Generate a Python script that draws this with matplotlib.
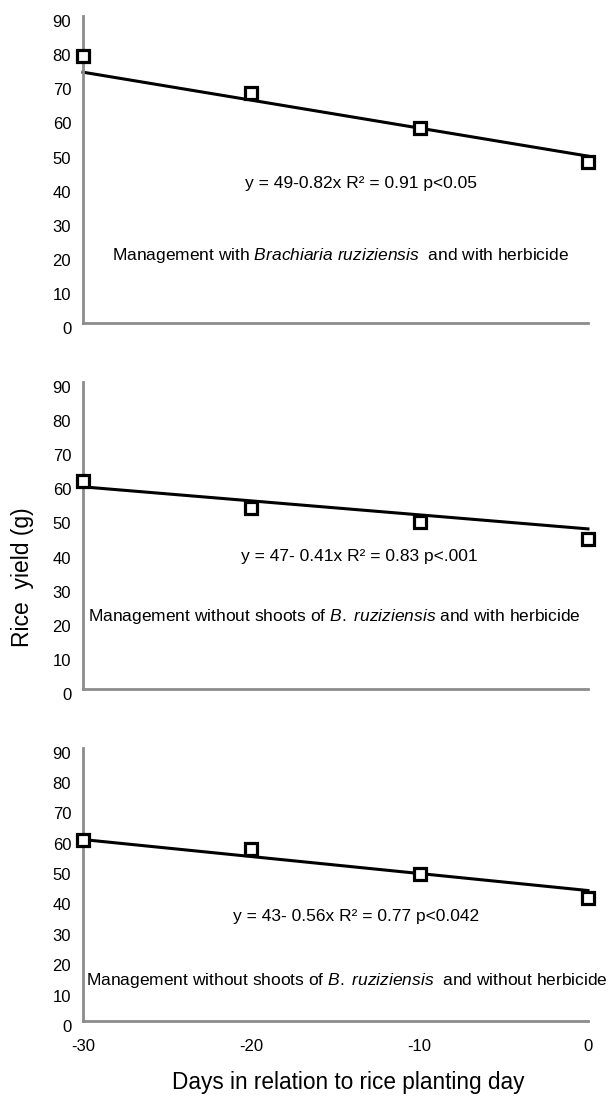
import matplotlib
matplotlib.use('Agg')
import matplotlib.pyplot as plt
import matplotlib.transforms as mtransforms
import numpy as np

plt.rcParams['font.family'] = ['Liberation Sans', 'DejaVu Sans']
plt.rcParams['mathtext.fontset'] = 'custom'
plt.rcParams['mathtext.rm'] = 'Liberation Sans'
plt.rcParams['mathtext.it'] = 'Liberation Sans:italic'
plt.rcParams['axes.unicode_minus'] = False

# days in relation to rice planting day
days = [-30, -20, -10, 0]

# rice yield (g) per management
yield_brach_herb = [78.3, 67.4, 57.3, 47.3]
yield_noshoot_herb = [61.1, 53.2, 48.9, 44.0]
yield_noshoot_noherb = [59.7, 56.6, 48.5, 40.7]

# fitted lines: intercept, slope
fit_brach_herb = (49, -0.82)
fit_noshoot_herb = (47, -0.41)
fit_noshoot_noherb = (43, -0.56)

eq_texts = ['y = 49-0.82x R² = 0.91 p<0.05',
            'y = 47- 0.41x R² = 0.83 p<.001',
            'y = 43- 0.56x R² = 0.77 p<0.042']
captions = ['Management with $\\it{Brachiaria\\ ruziziensis}$  and with herbicide',
            'Management without shoots of $\\it{B.\\ ruziziensis}$ and with herbicide',
            'Management without shoots of $\\it{B.\\ ruziziensis}$  and without herbicide']

yticks = [0, 10, 20, 30, 40, 50, 60, 70, 80, 90]
xticks = [-30, -20, -10, 0]

fig = plt.figure(figsize=(6.16, 10.97), dpi=100)

# axes rectangles (left, bottom, width, height)
rects = [[0.1347, 0.7053, 0.8198, 0.2799],
         [0.1347, 0.3715, 0.8198, 0.2803],
         [0.1347, 0.0693, 0.8198, 0.2489]]

series = [yield_brach_herb, yield_noshoot_herb, yield_noshoot_noherb]
fits = [fit_brach_herb, fit_noshoot_herb, fit_noshoot_noherb]
eq_pos = [(-13.5, 41.1), (-13.6, 38.9), (-13.8, 34.4)]
cap_pos = [(-28.3, 20.0), (-29.7, 21.3), (-29.8, 13.5)]

for i in range(3):
    ax = fig.add_axes(rects[i])
    a, b = fits[i]
    xs = np.array([-30, 0])
    ax.plot(xs, a + b * xs, color='black', lw=2.2, clip_on=False, zorder=2)
    ax.plot(days, series[i], linestyle='none', marker='s', ms=8,
            mfc='white', mec='black', mew=2.3, clip_on=False, zorder=3)
    ax.set_xlim(-30, 0)
    ax.set_ylim(0, 90)
    ax.set_yticks(yticks)
    ax.set_xticks(xticks)
    for s in ['top', 'right']:
        ax.spines[s].set_visible(False)
    for s in ['left', 'bottom']:
        ax.spines[s].set_color('#8c8c8c')
        ax.spines[s].set_linewidth(2.0)
    ax.tick_params(axis='y', length=0, pad=8.5, labelsize=12)
    ax.tick_params(axis='x', length=0, pad=13, labelsize=12)
    if i < 2:
        ax.set_xticklabels([])
    ax.text(eq_pos[i][0], eq_pos[i][1], eq_texts[i], ha='center', va='center', fontsize=12.5)
    ax.text(cap_pos[i][0], cap_pos[i][1], captions[i], ha='left', va='center',
            fontsize=12.5, clip_on=False)
    # tick labels sit a little below their ticks in the original
    off = mtransforms.ScaledTranslation(0, -3.5 / 72, fig.dpi_scale_trans)
    for lab in ax.get_yticklabels():
        lab.set_transform(lab.get_transform() + off)

fig.text(0.037, 0.474, 'Rice  yield (g)', rotation=90, ha='center', va='center', fontsize=16.5)
fig.text(0.565, 0.013, 'Days in relation to rice planting day', ha='center', va='center', fontsize=16.3)

fig.savefig('out.png', dpi=100)
